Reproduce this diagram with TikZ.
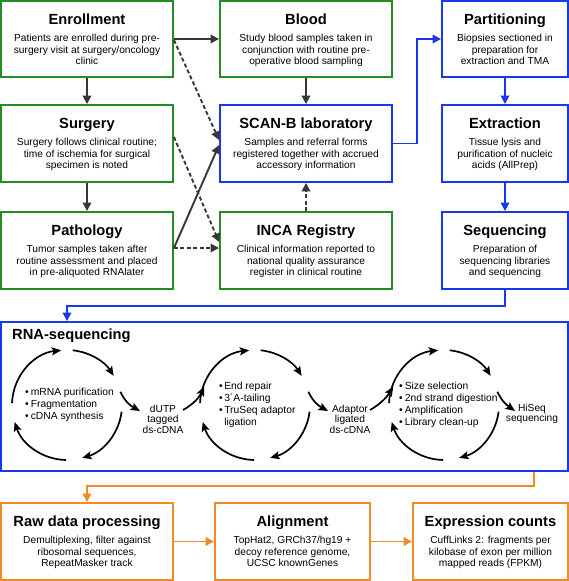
\documentclass[tikz,border=0pt]{standalone}
\usepackage{fontspec}
\setmainfont{Liberation Sans}
\usetikzlibrary{arrows.meta,calc}
\definecolor{sgreen}{RGB}{35,140,35}
\definecolor{sblue}{RGB}{25,55,235}
\definecolor{sorange}{RGB}{240,140,40}
\definecolor{agray}{RGB}{55,55,55}
\newcommand\bs{\vrule width0pt height7.5pt depth2.5pt\relax}
\newcommand\three[3]{\bs #1\\\bs #2\\\bs #3}
% #1 name, #2 cx, #3 top, #4 w, #5 h, #6 colour, #7 title, #8 body
\newcommand\stage[8]{%
  \node[stagebox, draw=#6, minimum width=#4pt, minimum height=#5pt] (#1) at (#2,#3+#5/2) {};
  \node[titletext] (#1-t) at (#2,#3+18) {#7};
  \node[bodytext] (#1-b) at (#2,#3+49.5) {#8};
}
\begin{document}
\begin{tikzpicture}[x=1pt,y=-1pt,
  stagebox/.style={rectangle, line width=1.9pt, fill=white, inner sep=0pt},
  titletext/.style={font=\fontsize{14.7}{17}\selectfont\bfseries, inner sep=0pt, text height=10.5pt, text depth=0pt},
  bodytext/.style={font=\fontsize{10.2}{11.7}\selectfont, align=center, inner sep=0pt},
  listtext/.style={font=\fontsize{10.3}{12}\selectfont, align=left, inner sep=0pt},
  prodtext/.style={font=\fontsize{10.2}{10.6}\selectfont, align=center, inner sep=0pt},
  garrow/.style={draw=agray, line width=1.9pt, -{Triangle[length=8.5pt,width=8.5pt]}},
  gdash/.style={garrow, dash pattern=on 4pt off 2.5pt},
  barrow/.style={draw=sblue, line width=1.9pt, -{Triangle[length=8.5pt,width=8.5pt]}},
  oarrow/.style={draw=sorange, line width=1.9pt, -{Triangle[length=8.5pt,width=8.5pt]}},
  cyc/.style={draw=black, line width=1.7pt, -{Stealth[length=9.5pt,width=8pt,inset=2pt]}}
]
\useasboundingbox (0,0) rectangle (569,581);

% ---------- clinical stages ----------
\stage{enr}{87}{1}{172}{76}{sgreen}{Enrollment}{\three{Patients are enrolled during pre-}{surgery visit at surgery/oncology}{clinic}}
\stage{sur}{87}{105}{172}{77}{sgreen}{Surgery}{\three{Surgery follows clinical routine;}{time of ischemia for surgical}{specimen is noted}}
\stage{pat}{87}{212}{172}{77}{sgreen}{Pathology}{\three{Tumor samples taken after}{routine assessment and placed}{in pre-aliquoted RNAlater}}
\stage{blood}{306}{1}{172}{76}{sgreen}{Blood}{\three{Study blood samples taken in}{conjunction with routine pre-}{operative blood sampling}}
\stage{scan}{306}{105}{172}{77}{sblue}{SCAN-B laboratory}{\three{Samples and referral forms}{registered together with accrued}{accessory information}}
\stage{inca}{306}{212}{172}{77}{sgreen}{INCA Registry}{\three{Clinical information reported to}{national quality assurance}{register in clinical routine}}
\stage{part}{505}{1}{126}{76}{sblue}{Partitioning}{\three{Biopsies sectioned in}{preparation for}{extraction and TMA}}
\stage{extr}{505}{105}{126}{77}{sblue}{Extraction}{\three{Tissue lysis and}{purification of nucleic}{acids (AllPrep)}}
\stage{seq}{505}{212}{126}{77}{sblue}{Sequencing}{\three{Preparation of}{sequencing libraries}{and sequencing}}

% ---------- analysis stages ----------
\stage{raw}{87}{503}{172}{77}{sorange}{Raw data processing}{\three{Demultiplexing, filter against}{ribosomal sequences,}{RepeatMasker track}}
\stage{align}{292.5}{503}{155}{77}{sorange}{Alignment}{\three{TopHat2, GRCh37/hg19 +}{decoy reference genome,}{UCSC knownGenes}}
\stage{expr}{490.5}{503}{155}{77}{sorange}{Expression counts}{\three{CuffLinks 2: fragments per}{kilobase of exon per million}{mapped reads (FPKM)}}

% ---------- RNA-sequencing box ----------
\node[stagebox, draw=sblue, minimum width=567pt, minimum height=149pt] (rna) at (284.5,396.5) {};
\node[titletext, anchor=west] (rna-t) at (12,334) {RNA-sequencing};

\coordinate (c1) at (67,405);
\coordinate (c2) at (255,405);
\coordinate (c3) at (444,405);

\foreach \c in {c1,c2,c3}{
  \draw[cyc] ([shift={(182:55)}]\c) arc[start angle=182, end angle=264, radius=55];
  \draw[cyc] ([shift={(276:55)}]\c) arc[start angle=276, end angle=328, radius=55];
  \draw[cyc] ([shift={(7:55)}]\c) arc[start angle=7, end angle=74, radius=55];
  \draw[cyc] ([shift={(91:55)}]\c) arc[start angle=91, end angle=162, radius=55];
}

\node[listtext, anchor=west] (l1) at (25,405) {\textbullet\hspace{2pt}mRNA purification\\\textbullet\hspace{2pt}Fragmentation\\\textbullet\hspace{2pt}cDNA synthesis};
\node[listtext, anchor=west] (l2) at (219,405) {\textbullet\hspace{1.5pt}End repair\\\textbullet\hspace{1.5pt}3´A-tailing\\\textbullet\hspace{1.5pt}TruSeq adaptor\\\hphantom{\textbullet\hspace{1.5pt}}ligation};
\node[listtext, anchor=west] (l3) at (399,405) {\textbullet\hspace{2pt}Size selection\\\textbullet\hspace{2pt}2nd strand digestion\\\textbullet\hspace{2pt}Amplification\\\textbullet\hspace{2pt}Library clean-up};

\node[prodtext] (dutp) at (163,419) {dUTP\\tagged\\ds-cDNA};
\node[prodtext] (adap) at (350,419) {Adaptor\\ligated\\ds-cDNA};
\node[prodtext] (hiseq) at (532,414) {HiSeq\\sequencing};

% out / in arrows of the cycles
\draw[cyc] ([shift={(-14:55)}]c1) .. controls ($(c1)+(58,-3)$) and ($(c1)+(64,1)$) .. ($(c1)+(73,6)$);
\draw[cyc] (183,410) .. controls (190,406) and (198,400) .. ([shift={(200:54)}]c2);
\draw[cyc] ([shift={(-14:55)}]c2) .. controls ($(c2)+(58,-3)$) and ($(c2)+(64,1)$) .. ($(c2)+(73,6)$);
\draw[cyc] (370,410) .. controls (377,406) and (385,400) .. ([shift={(200:54)}]c3);
\draw[cyc] ([shift={(-14:55)}]c3) .. controls ($(c3)+(58,-3)$) and ($(c3)+(64,1)$) .. ($(c3)+(71,6)$);

% ---------- connectors ----------
\draw[garrow] (enr.south) -- (sur.north);
\draw[garrow] (sur.south) -- (pat.north);
\draw[garrow] (enr.east) -- (blood.west);
\draw[gdash] ($(enr.east)+(0,1)$) -- ($(scan.west)+(0,-3.5)$);
\draw[gdash] ($(sur.east)+(0,-6.5)$) -- ($(inca.west)+(0,-8.5)$);
\draw[garrow] ($(pat.east)+(0,-2.5)$) -- ($(scan.west)+(0,1.5)$);
\draw[gdash] ($(pat.east)+(0,-2.5)$) -- ($(inca.west)+(0,-2.5)$);
\draw[garrow] (blood.south) -- (scan.north);
\draw[gdash] (inca.north) -- (scan.south);

\draw[barrow] (scan.east) -- ++(24,0) |- (part.west);
\draw[barrow] (part.south) -- (extr.north);
\draw[barrow] (extr.south) -- (seq.north);
\coordinate (seqturn) at (505,306);
\draw[barrow] (seq.south) -- (seqturn) -| (c1 |- rna.north);

\coordinate (rnaturn) at (534,486);
\draw[oarrow] (rna.south -| rnaturn) -- (rnaturn) -| (raw.north);
\draw[oarrow] (raw.east) -- (align.west);
\draw[oarrow] (align.east) -- (expr.west);
\end{tikzpicture}
\end{document}
